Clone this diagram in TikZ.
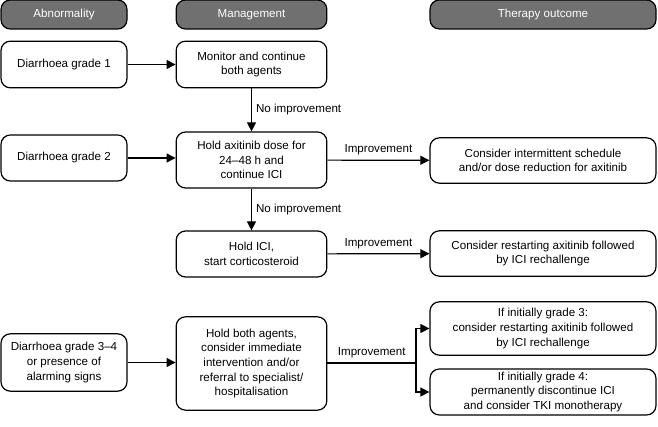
\documentclass[tikz,border=0pt]{standalone}
\usepackage{fontspec}
\setmainfont{Liberation Sans}
\usetikzlibrary{arrows.meta}

\begin{document}
\begin{tikzpicture}[x=0.75pt,y=-0.75pt,
  every node/.style={font=\fontsize{8.7}{10.9}\selectfont, align=center, inner sep=0pt},
  box/.style={draw=black, line width=0.9pt, rounded corners=7pt, fill=white},
  head/.style={box, fill=black!56, text=white, minimum height=21.75pt},
  link/.style={line width=0.9pt, -{Triangle[length=6.8pt,width=6.8pt]}},
  lbl/.style={font=\fontsize{8.7}{10.9}\selectfont}]
\useasboundingbox (0,0) rectangle (658,427);
% column heads
\node[head, minimum width=94.5pt] (hAbn) at (64,14.5) {Abnormality};
\node[head, minimum width=113pt] (hMan) at (251.5,14.5) {Management};
\node[head, minimum width=169.5pt] (hOut) at (543,14.5) {Therapy outcome};
% grade 1
\node[box, minimum width=94.5pt, minimum height=35pt] (dOne) at (64,64.5) {Diarrhoea grade 1};
\node[box, minimum width=113pt, minimum height=35pt] (mon) at (251.5,64.5) {Monitor and continue\\both agents};
% grade 2
\node[box, minimum width=94.5pt, minimum height=34.5pt] (dTwo) at (64,158) {Diarrhoea grade 2};
\node[box, minimum width=113pt, minimum height=42pt] (holdAxi) at (251.5,160) {Hold axitinib dose for\\24--48 h and\\continue ICI};
\node[box, minimum width=169.5pt, minimum height=34pt] (outA) at (543,160.5) {Consider intermittent schedule\\and/or dose reduction for axitinib};
\node[box, minimum width=113pt, minimum height=34.5pt] (holdIci) at (251.5,254) {Hold ICI,\\start corticosteroid};
\node[box, minimum width=169.5pt, minimum height=34pt] (outB) at (543,253.5) {Consider restarting axitinib followed\\by ICI rechallenge};
% grade 3-4
\node[box, minimum width=94.5pt, minimum height=43pt] (dThree) at (64,362.5) {Diarrhoea grade 3--4\\or presence of\\alarming signs};
\node[box, minimum width=113pt, minimum height=70pt] (holdBoth) at (251.5,363.5) {Hold both agents,\\consider immediate\\intervention and/or\\referral to specialist/\\hospitalisation};
\node[box, minimum width=169.5pt, minimum height=40pt] (outC) at (543,328.5) {If initially grade 3:\\consider restarting axitinib followed\\by ICI rechallenge};
\node[box, minimum width=169.5pt, minimum height=34.5pt] (outD) at (543,392) {If initially grade 4:\\permanently discontinue ICI\\and consider TKI monotherapy};
\coordinate (split) at (416,363);

\draw[link] (dOne) -- (mon);
\draw[link] (mon) -- node[lbl, right=3pt] {No improvement} (holdAxi);
\draw[link] (dTwo.east) -- (dTwo.east -| holdAxi.west);
\draw[link] (holdAxi) -- node[lbl, above=3.5pt] {Improvement} (outA);
\draw[link] (holdAxi) -- node[lbl, right=3pt] {No improvement} (holdIci);
\draw[link] (holdIci) -- node[lbl, above=3.5pt] {Improvement} (outB);
\draw[link] (dThree.east) -- (dThree.east -| holdBoth.west);
\draw[line width=0.9pt] (holdBoth.east |- split) -- node[lbl, above=3.5pt] {Improvement} (split);
\draw[link] (split) |- (outC.west);
\draw[link] (split) |- (outD.west);
\end{tikzpicture}
\end{document}
